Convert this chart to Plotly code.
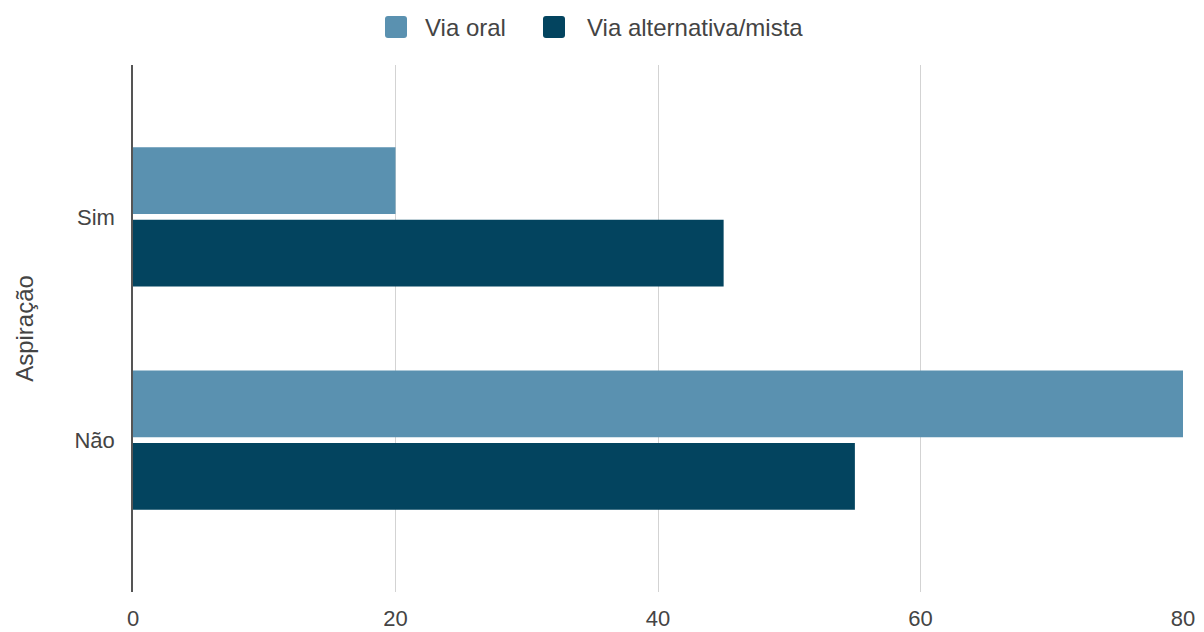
import plotly.graph_objects as go

categories = ["Sim", "Não"]
via_oral = [20, 80]
via_alternativa = [45, 55]
series_names = ["Via oral", "Via alternativa/mista"]
series_colors = ["#5a91b0", "#03445f"]
x_ticks = [0, 20, 40, 60, 80]

FONT = "Liberation Sans, Arial, Helvetica, sans-serif"
TXT = "#444444"

W, H = 1204, 632
L, R, T, B = 133, 21, 65, 40
PW, PH = W - L - R, H - T - B


def px(x):
    return (x - L) / PW


def py(y):
    return (H - B - y) / PH


fig = go.Figure()
for name, vals, col in zip(series_names, [via_oral, via_alternativa], series_colors):
    fig.add_trace(go.Bar(y=categories, x=vals, name=name, orientation="h",
                         marker=dict(color=col, line=dict(width=0)), showlegend=False))

# custom legend (large rounded squares like the reference)
legend_items = [(385, 423), (543, 585)]
shapes = []
annotations = []
for (bx, tx), name, col in zip(legend_items, series_names, series_colors):
    x0, x1, y0, y1 = bx, bx + 22, 16, 38
    r = 3
    path = (f"M {px(x0 + r)} {py(y0)} L {px(x1 - r)} {py(y0)} "
            f"Q {px(x1)} {py(y0)} {px(x1)} {py(y0 + r)} L {px(x1)} {py(y1 - r)} "
            f"Q {px(x1)} {py(y1)} {px(x1 - r)} {py(y1)} L {px(x0 + r)} {py(y1)} "
            f"Q {px(x0)} {py(y1)} {px(x0)} {py(y1 - r)} L {px(x0)} {py(y0 + r)} "
            f"Q {px(x0)} {py(y0)} {px(x0 + r)} {py(y0)} Z")
    shapes.append(dict(type="path", xref="paper", yref="paper", path=path,
                       fillcolor=col, line=dict(width=0)))
    annotations.append(dict(xref="paper", yref="paper", x=px(tx), y=py(27.5),
                            xanchor="left", yanchor="middle", text=name, showarrow=False,
                            font=dict(family=FONT, size=24, color=TXT)))

fig.update_layout(
    width=W, height=H,
    margin=dict(l=L, r=R, t=T, b=B),
    paper_bgcolor="white", plot_bgcolor="white",
    barmode="group", bargap=0.35, bargroupgap=0.08,
    font=dict(family=FONT, size=22, color=TXT),
    showlegend=False,
    shapes=shapes, annotations=annotations,
)
fig.update_xaxes(range=[0, 80], tickvals=x_ticks, showgrid=True, gridcolor="#d3d3d3",
                 gridwidth=1, zeroline=False, showline=False, ticks="",
                 ticklabelstandoff=11, automargin=False,
                 tickfont=dict(family=FONT, size=22, color=TXT))
fig.update_yaxes(autorange=False, range=[1.68, -0.68], type="category",
                 title=dict(text="Aspiração", font=dict(family=FONT, size=24, color=TXT), standoff=34),
                 showgrid=False, zeroline=False, showline=True, linecolor="#555555", linewidth=1.5,
                 ticks="", ticklabelstandoff=12, automargin=False,
                 tickfont=dict(family=FONT, size=22, color=TXT))

fig.write_html("out.html")
